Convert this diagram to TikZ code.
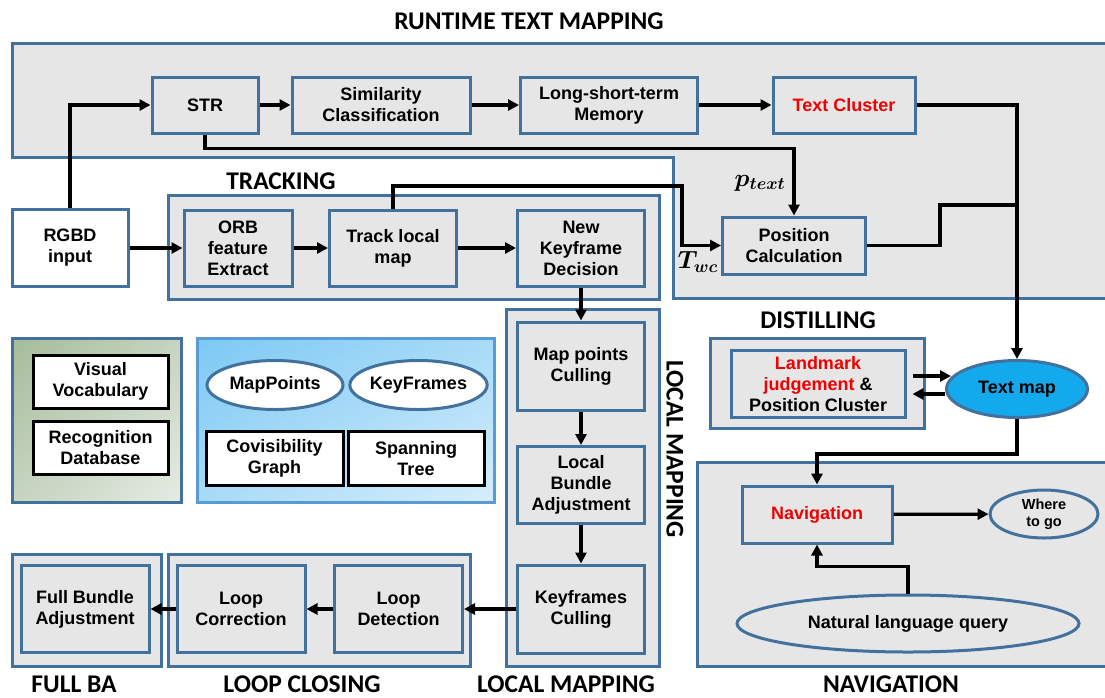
\documentclass[tikz,border=0pt]{standalone}
\usepackage{fontspec}
\setmainfont{Liberation Sans}
\newfontfamily\titlefont{Carlito}
\usepackage{amsmath,amsbsy}
\usetikzlibrary{arrows.meta,shapes.geometric,calc,shadings}
\definecolor{pgray}{HTML}{E7E6E6}
\definecolor{bblue}{HTML}{41719C}
\definecolor{lblue}{HTML}{5B9BD5}
\definecolor{tmfill}{HTML}{12AAEC}
\definecolor{blueA}{HTML}{7CC9F4}
\definecolor{blueB}{HTML}{D6EEFB}
\definecolor{blueC}{HTML}{A8DBF7}
\definecolor{greenA}{HTML}{A4BC9A}
\definecolor{greenB}{HTML}{E6EBE3}
\definecolor{greenC}{HTML}{C6D4C0}
\definecolor{redtxt}{HTML}{F00000}
\newcommand\boxfnt{\fontsize{18}{21}\selectfont\bfseries}
\newcommand\ttlfnt{\titlefont\bfseries\fontsize{25.5}{28}\selectfont}
\begin{document}
\begin{tikzpicture}[x=1pt,y=-1pt,
  panel/.style={draw=bblue,line width=3pt,fill=pgray},
  ibox/.style={draw=bblue,line width=3pt,fill=pgray,align=center,font=\boxfnt,inner sep=2pt},
  wbox/.style={draw=black,line width=3pt,fill=white,align=center,font=\boxfnt,inner sep=2pt},
  ell/.style={ellipse,draw=bblue,line width=3pt,align=center,font=\boxfnt,inner sep=0pt},
  ttl/.style={font=\ttlfnt,inner sep=0pt},
  conn/.style={line width=3.2pt},
  arr/.style={line width=3.2pt,-{Triangle[length=11pt,width=11pt]}}]
\useasboundingbox (0,0) rectangle (1105,697);
\fill[white] (0,0) rectangle (1105,697);

% ---------- panels ----------
\fill[pgray] (12,43) -- (1105,43) -- (1105,298) -- (673,298) -- (673,157) -- (12,157) -- cycle;
\draw[bblue,line width=3pt] (1106,43) -- (12,43) -- (12,157) -- (673,157) -- (673,298) -- (1106,298);
\draw[panel] (168,195) rectangle (659,299);
\draw[panel] (506,309) rectangle (659,666);
\draw[panel] (710,338) rectangle (924,428);
\draw[panel] (697,462) rectangle (1108,666);
\draw[panel] (168,554) rectangle (470,666);
\draw[panel] (12,554) rectangle (161,666);
\shade[upper left=greenA,lower right=greenB,upper right=greenC,lower left=greenC] (12,338) rectangle (181,502);
\draw[bblue,line width=3pt] (12,338) rectangle (181,502);
\shade[upper left=blueA,lower right=blueB,upper right=blueC,lower left=blueC] (197,338) rectangle (494,502);
\draw[lblue,line width=3pt] (197,338) rectangle (494,502);

% ---------- titles ----------
\node[ttl] (tRun) at (529,21) {RUNTIME TEXT MAPPING};
\node[ttl] (tTrk) at (281,181) {TRACKING};
\node[ttl] (tDis) at (818,320) {DISTILLING};
\node[ttl,rotate=-90] (tLmv) at (675,449) {LOCAL MAPPING};
\node[ttl] (tLm) at (566,684) {LOCAL MAPPING};
\node[ttl] (tNav) at (891,684) {NAVIGATION};
\node[ttl] (tFba) at (74,684) {FULL BA};
\node[ttl] (tLc) at (302,684) {LOOP CLOSING};

% ---------- nodes ----------
\node[ibox,minimum width=106,minimum height=56] (str) at (205,105) {STR};
\node[ibox,minimum width=178,minimum height=56] (sim) at (381,105) {Similarity\\Classification};
\node[ibox,minimum width=177,minimum height=56] (lstm) at (609,105) {Long-short-term\\Memory};
\node[ibox,minimum width=142,minimum height=56] (tc) at (844,105) {\textcolor{redtxt}{Text Cluster}};

\node[ibox,fill=white,minimum width=116,minimum height=77] (rgbd) at (70,248) {RGBD\\input};
\node[ibox,minimum width=108,minimum height=76] (orb) at (238,248) {ORB\\feature\\Extract};
\node[ibox,minimum width=127,minimum height=76] (tlm) at (393,248) {Track local\\map};
\node[ibox,minimum width=127,minimum height=76] (nkf) at (581,248) {New\\Keyframe\\Decision};
\node[ibox,minimum width=143,minimum height=57] (pos) at (794,245.5) {Position\\Calculation};

\node[ibox,minimum width=127,minimum height=88] (mpc) at (581,366) {Map points\\Culling};
\node[ibox,minimum width=127,minimum height=77] (lba) at (581,485) {Local\\Bundle\\Adjustment};
\node[ibox,minimum width=127,minimum height=88] (kfc) at (581,609) {Keyframes\\Culling};

\node[ibox,minimum width=128,minimum height=87] (ld) at (398.5,609) {Loop\\Detection};
\node[ibox,minimum width=128,minimum height=87] (lc) at (241,609) {Loop\\Correction};
\node[ibox,minimum width=128,minimum height=87] (fba) at (85,609) {Full Bundle\\Adjustment};

\node[wbox,minimum width=135,minimum height=53] (vv) at (100.5,381.5) {Visual\\Vocabulary};
\node[wbox,minimum width=135,minimum height=53] (rd) at (100.5,447.5) {Recognition\\Database};
\node[ell,fill=white,minimum width=136,minimum height=49] (mp) at (275,385) {MapPoints};
\node[ell,fill=white,minimum width=131,minimum height=49] (kf) at (418.5,385) {KeyFrames};
\node[wbox,minimum width=137,minimum height=54] (cg) at (274.5,458.5) {Covisibility\\Graph};
\node[wbox,minimum width=136,minimum height=54] (st) at (416,458.5) {Spanning\\Tree};

\node[ibox,minimum width=174,minimum height=67] (lj) at (818,384) {\textcolor{redtxt}{Landmark}\\\textcolor{redtxt}{judgement} \&\\Position Cluster};
\node[ell,fill=tmfill,minimum width=141,minimum height=57] (tm) at (1017,389) {Text map};

\node[ibox,minimum width=150,minimum height=57] (nav) at (817,514.5) {\textcolor{redtxt}{Navigation}};
\node[ell,fill=pgray,minimum width=108,minimum height=48,font=\fontsize{14.5}{17}\selectfont\bfseries] (wtg) at (1044,514) {Where\\to go};
\node[ell,fill=pgray,minimum width=342,minimum height=57] (nlq) at (908,623.5) {Natural language query};

% ---------- math labels ----------
\node[inner sep=0pt,font=\fontsize{25}{27}\selectfont] (lp) at (760,183) {$\boldsymbol{p_{text}}$};
\node[inner sep=0pt,font=\fontsize{25}{27}\selectfont] (lt) at (698,262) {$\boldsymbol{T_{wc}}$};

% ---------- connectors ----------
\coordinate (tw) at (682,186);
\coordinate (ps) at (940,205);
\draw[arr] (rgbd.north) |- (str.west);
\draw[arr] (rgbd.east) -- (orb.west);
\draw[arr] (str) -- (sim);
\draw[arr] (sim) -- (lstm);
\draw[arr] (lstm) -- (tc);
\draw[arr] (str.south) -- ++(0,14) -| (pos.north);
\draw[arr] (orb) -- (tlm);
\draw[arr] (tlm) -- (nkf);
\draw[arr] (tlm.north) |- (tw) |- (pos.west);
\draw[arr] (tc.east) -| (tm.north);
\draw[conn] (pos.east) -| (ps) -- (ps -| tm.north);
\draw[arr] ([xshift=6pt,yshift=8pt]lj.east) -- ([xshift=6pt,yshift=8pt]lj.east -| tm.west);
\draw[arr] ([yshift=-10pt]lj.east -| tm.west) -- ([xshift=6pt,yshift=-10pt]lj.east);
\draw[arr] (tm.south) -- ++(0,35) -| (nav.north);
\draw[arr] (nav) -- (wtg);
\draw[arr] (nlq.north) -- ++(0,-27) -| (nav.south);
\draw[arr] (nkf) -- (mpc);
\draw[arr] (mpc) -- (lba);
\draw[arr] (lba) -- (kfc);
\draw[arr] (kfc) -- (ld);
\draw[arr] (ld) -- (lc);
\draw[arr] (lc) -- (fba);
\end{tikzpicture}
\end{document}
